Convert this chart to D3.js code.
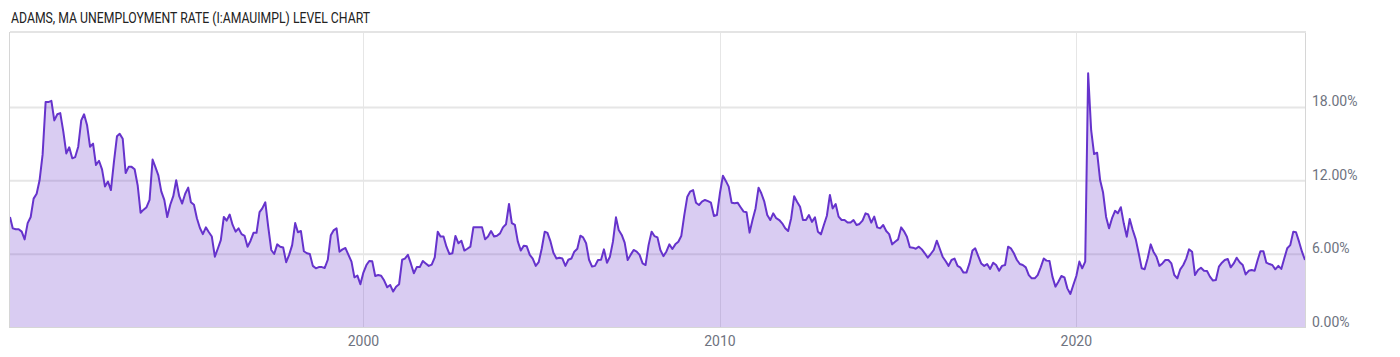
<!DOCTYPE html>
<html>
<head>
<meta charset="utf-8">
<script src="https://cdn.jsdelivr.net/npm/d3@7"></script>
<style>
  body { margin: 0; background: #fff; font-family: Roboto, "Open Sans", sans-serif; }
  .title { font-size: 15px; fill: #222; }
  .tick-label { font-size: 14px; fill: #6e7380; }
  .grid line { stroke: #e6e6e6; stroke-width: 1; }
  .frame { fill: none; stroke: #d6d6d6; stroke-width: 1; }
  .area { fill: #6633cc; fill-opacity: 0.25; }
  .line { fill: none; stroke: #6633cc; stroke-width: 2; stroke-linejoin: round; }
</style>
</head>
<body>
<div id="chart_placeholder"></div>
<script>
var margin = {top: 33, right: 95, bottom: 30, left: 10},
    width = 1400 - (margin.left + margin.right),
    height = 357 - (margin.top + margin.bottom);

// monthly values, series starts Feb 1990
var startDate = new Date(1990, 1, 1);

var rate1990s = [9.0, 8.07, 8.0, 8.0, 7.8, 7.17, 8.5, 9.0, 10.5, 10.9, 12.0, 14.1,
  18.4, 18.4, 18.5, 16.9, 17.4, 17.5, 16.0, 14.2, 14.7, 13.8, 13.9, 14.75,
  16.9, 17.4, 16.5, 14.75, 15.0, 13.25, 13.6, 12.9, 11.5, 11.9, 11.2, 13.5,
  15.6, 15.8, 15.4, 12.6, 13.1, 13.1, 12.9, 11.6, 9.35, 9.6, 9.8, 10.4,
  13.7, 13.1, 12.4, 11.1, 10.4, 9.0, 10.0, 10.7, 12.0, 10.7, 10.1, 10.9,
  11.4, 10.2, 10.0, 8.9, 8.1, 7.6, 8.15, 7.75, 7.4, 5.75, 6.4, 7.1,
  9.0, 8.7, 9.2, 8.35, 7.8, 8.07, 7.6, 7.45, 6.57, 7.06, 7.7, 7.7,
  9.4, 9.7, 10.2, 8.2, 6.3, 5.97, 6.76, 6.57, 6.5, 5.3, 5.9, 6.7,
  8.5, 7.75, 7.85, 6.2, 6.03, 5.97, 5.0, 4.8, 4.9, 4.9, 4.83, 5.5,
  7.5, 7.9, 8.07, 6.16, 6.35, 6.46, 5.9, 5.35, 4.06, 4.2, 3.5];

var rate2000s = [4.45, 5.07, 5.4, 5.37, 4.17, 4.25, 4.2, 3.8, 3.25, 3.44, 2.9, 3.3,
  3.5, 5.5, 5.6, 5.9, 5.2, 4.4, 4.9, 4.9, 5.4, 5.2, 5.0, 5.1,
  5.7, 7.8, 7.4, 7.4, 6.57, 5.97, 6.03, 7.45, 6.85, 7.06, 6.25, 6.4,
  6.57, 8.15, 8.15, 8.15, 8.15, 7.17, 7.4, 7.85, 7.4, 7.47, 7.66, 8.15,
  8.4, 10.06, 8.5, 8.35, 7.0, 6.25, 6.65, 6.6, 5.9, 5.6, 5.0, 5.3,
  6.4, 7.8, 7.7, 7.0, 6.08, 5.6, 5.67, 5.6, 5.0, 5.5, 5.6, 6.16,
  6.4, 7.47, 7.33, 6.85, 5.5, 4.94, 5.0, 5.48, 5.5, 6.35, 5.26, 5.75,
  6.98, 8.97, 7.94, 7.53, 6.9, 5.48, 5.9, 6.3, 6.16, 5.9, 5.2, 5.07,
  6.7, 7.8, 7.44, 7.33, 6.3, 5.8, 6.16, 6.76, 6.38, 6.76, 6.98, 7.44,
  9.16, 10.66, 11.07, 11.2, 10.17, 9.98, 10.25, 10.39, 10.3, 10.17, 9.08, 9.16];

var rate2010s = [10.94, 12.38, 11.97, 11.48, 10.17, 10.12, 10.17, 9.8, 9.44, 9.38, 7.72, 8.75,
  9.7, 11.4, 10.94, 10.25, 9.16, 8.75, 9.3, 8.9, 8.75, 8.48, 8.07, 7.85,
  8.9, 10.7, 10.25, 9.84, 8.75, 8.75, 9.16, 8.6, 8.97, 7.8, 7.58, 8.34,
  9.1, 10.8, 9.7, 10.06, 9.03, 8.75, 8.75, 8.54, 8.54, 8.75, 8.34, 8.43,
  8.7, 9.3, 9.2, 8.54, 9.03, 8.15, 8.07, 8.34, 7.85, 7.6, 6.76, 6.98,
  7.17, 8.15, 7.85, 7.39, 6.52, 6.49, 6.4, 6.57, 6.35, 6.03, 5.67, 5.97,
  6.3, 7.06, 6.44, 5.75, 5.4, 5.0, 5.48, 5.6, 5.0, 4.85, 4.45, 4.45,
  5.2, 6.25, 6.44, 5.8, 5.2, 5.0, 5.15, 4.75, 5.26, 5.07, 4.6, 5.0,
  5.07, 6.57, 6.44, 6.03, 5.5, 5.15, 5.07, 4.88, 4.25, 3.98, 3.98, 4.25,
  4.88, 5.6, 5.43, 5.4, 4.12, 3.3, 3.7, 4.17, 4.06, 3.16, 2.7, 3.44];

var rate2020s = [4.17, 5.35, 4.8, 5.35, 20.75, 16.1, 14.15, 14.26, 12.0, 11.0, 9.0, 8.07,
  8.9, 9.5, 9.3, 9.8, 8.48, 7.39, 8.84, 7.94, 7.17, 6.03, 4.8, 4.72,
  5.62, 6.76, 6.16, 5.75, 5.0, 5.2, 5.48, 5.48, 5.2, 4.25, 3.98, 4.72,
  5.07, 5.62, 6.35, 6.16, 4.25, 4.66, 4.85, 4.6, 4.58, 4.12, 3.8, 3.85,
  4.94, 5.26, 5.48, 5.56, 4.88, 5.2, 5.67, 5.3, 5.07, 4.3, 4.6, 4.66,
  4.6, 5.48, 6.2, 6.2, 5.26, 5.15, 5.07, 4.72, 5.0, 4.75, 5.62, 6.44,
  6.7, 7.8, 7.75, 6.98, 6.16, 5.48];

var yTicks = [0, 6, 12, 18];
var xTickYears = [2000, 2010, 2020];
var yMax = 24.05;

var data = rate1990s.concat(rate2000s, rate2010s, rate2020s).map(function(v, i) {
  return {date: d3.timeMonth.offset(startDate, i), value: v};
});

var x = d3.scaleTime()
  .domain(d3.extent(data, function(d) { return d.date; }))
  .range([0, width]);
var y = d3.scaleLinear().domain([0, yMax]).range([height, 0]);

var svg = d3.select("#chart_placeholder")
  .append("svg")
  .attr("width", width + (margin.left + margin.right))
  .attr("height", height + (margin.top + margin.bottom));

svg.append("text")
  .attr("class", "title")
  .attr("x", 11)
  .attr("y", 22.5)
  .attr("textLength", 359)
  .attr("lengthAdjust", "spacingAndGlyphs")
  .text("ADAMS, MA UNEMPLOYMENT RATE (I:AMAUIMPL) LEVEL CHART");

var g = svg.append("g")
  .attr("transform", "translate(" + margin.left + "," + margin.top + ")");

// grid
var grid = g.append("g").attr("class", "grid");
grid.selectAll(".hgrid")
  .data(yTicks.slice(1))
  .enter().append("line")
  .attr("x1", 0).attr("x2", width)
  .attr("y1", function(d) { return y(d) + 0.5; })
  .attr("y2", function(d) { return y(d) + 0.5; })
  .style("stroke-width", 2);
grid.selectAll(".vgrid")
  .data(xTickYears)
  .enter().append("line")
  .attr("x1", function(d) { return Math.round(x(new Date(d, 0, 1))) + 0.5; })
  .attr("x2", function(d) { return Math.round(x(new Date(d, 0, 1))) + 0.5; })
  .attr("y1", 0).attr("y2", height);

var area = d3.area()
  .x(function(d) { return x(d.date); })
  .y0(height)
  .y1(function(d) { return y(d.value); });

var line = d3.line()
  .x(function(d) { return x(d.date); })
  .y(function(d) { return y(d.value); });

g.append("path")
  .data([data])
  .attr("class", "area")
  .attr("d", area);

g.append("path")
  .data([data])
  .attr("class", "line")
  .attr("d", line);

g.append("rect")
  .attr("class", "frame")
  .attr("x", -0.5).attr("y", -0.5)
  .attr("width", width + 1).attr("height", height + 1);
g.append("line")
  .attr("x1", 0).attr("x2", width + 1)
  .attr("y1", -1).attr("y2", -1)
  .style("stroke", "#e4e4e4").style("stroke-width", 2);

// y labels on right
g.selectAll(".ylab")
  .data(yTicks)
  .enter().append("text")
  .attr("class", "tick-label")
  .attr("x", width + 7)
  .attr("y", function(d) { return y(d) - 0.5; })
  .text(function(d) { return d3.format(".2f")(d) + "%"; });

// x labels
g.selectAll(".xlab")
  .data(xTickYears)
  .enter().append("text")
  .attr("class", "tick-label")
  .attr("text-anchor", "middle")
  .attr("x", function(d) { return x(new Date(d, 0, 1)); })
  .attr("y", height + 19)
  .text(function(d) { return d; });
</script>
</body>
</html>
